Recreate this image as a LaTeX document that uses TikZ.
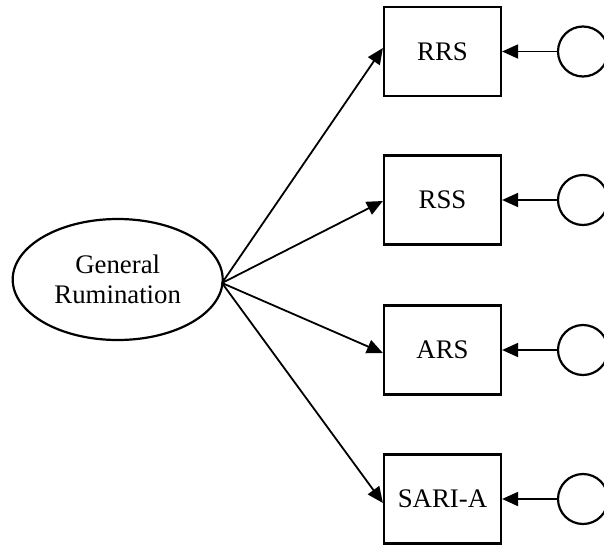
\documentclass[tikz,border=0pt]{standalone}
\usepackage{fontspec}
\setmainfont{Liberation Serif}
\usetikzlibrary{arrows.meta,shapes.geometric}
\begin{document}
\begin{tikzpicture}[x=0.5pt,y=-0.5pt,
  every node/.style={font=\fontsize{13.4}{15}\selectfont},
  latent/.style={draw,line width=1.1pt,ellipse,minimum width=105pt,minimum height=60.5pt,inner sep=0pt,align=center},
  obsbox/.style={draw,line width=1.1pt,rectangle,minimum width=58.5pt,minimum height=44.5pt,inner sep=0pt},
  errc/.style={draw,line width=1.1pt,circle,minimum size=25pt,inner sep=0pt},
  load/.style={line width=0.9pt,-{Triangle[length=8pt,width=7pt]}},
  errarrow/.style={line width=0.9pt,-{Triangle[length=8pt,width=7pt]}}]
\useasboundingbox (0,0) rectangle (604,546);
\node[latent] (gr) at (117.7,279.5) {General\\Rumination};
\node[obsbox] (rrs) at (442.5,51.5) {RRS};
\node[obsbox] (rss) at (442.5,200) {RSS};
\node[obsbox] (ars) at (442.5,350) {ARS};
\node[obsbox] (sari) at (442.5,499) {SARI-A};
\node[errc] (e1) at (583,51.5) {};
\node[errc] (e2) at (583,200) {};
\node[errc] (e3) at (583,350) {};
\node[errc] (e4) at (583,499) {};
\coordinate (src) at (222,283);
\draw[load] (src) -- ([yshift=1.75pt]rrs.west);
\draw[load] (src) -- ([yshift=-0.5pt]rss.west);
\draw[load] (src) -- ([yshift=-1.5pt]ars.west);
\draw[load] (src) -- ([yshift=-2pt]sari.west);
\draw[errarrow] (e1) -- (rrs);
\draw[errarrow] (e2) -- (rss);
\draw[errarrow] (e3) -- (ars);
\draw[errarrow] (e4) -- (sari);
\end{tikzpicture}
\end{document}
